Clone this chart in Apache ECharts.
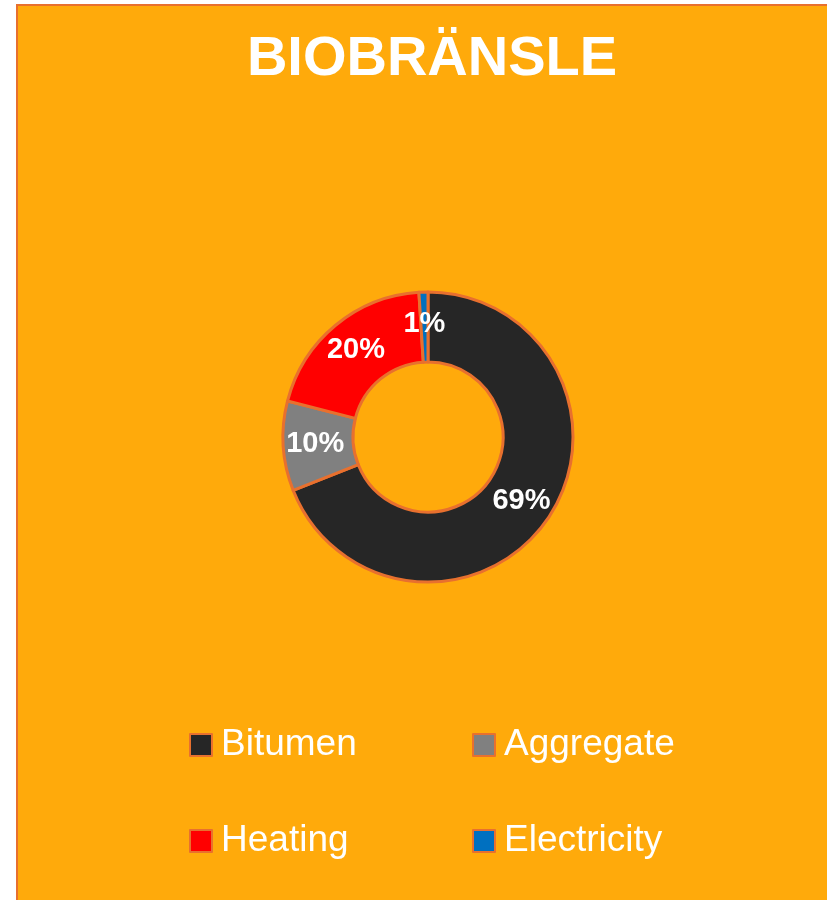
<!DOCTYPE html>
<html>
<head>
<meta charset="utf-8">
<script src="https://cdn.jsdelivr.net/npm/echarts@6/dist/echarts.min.js"></script>
<style>
  html, body { margin: 0; padding: 0; background: #fff; overflow: hidden; width: 827px; height: 900px; }
  #frame { position: absolute; left: 16px; top: 4px; width: 840px; height: 920px;
           border: 2px solid #E8702E; background: #FFAA0B; }
  #main { width: 826px; height: 900px; }
</style>
</head>
<body>
<div id="frame"><div id="main"></div></div>
<script>
// 数据
var categories = ['Bitumen', 'Aggregate', 'Heating', 'Electricity'];
var shares = [69, 10, 20, 1];
var colors = ['#262626', '#808080', '#FF0000', '#0070C0'];

var myChart = echarts.init(document.getElementById('main'));

var pieData = categories.map(function (name, i) {
    return { name: name, value: shares[i], itemStyle: { color: colors[i] } };
});

var legendText = {
    color: '#fff',
    fontSize: 37,
    fontFamily: 'Liberation Sans, Arial, sans-serif',
    lineHeight: 40,
    padding: [0, 0, 0, 4]
};

var option = {
    animation: false,
    backgroundColor: '#FFAA0B',
    title: {
        text: 'BIOBRÄNSLE',
        left: 409,
        top: 21,
        textAlign: 'center',
        textStyle: {
            color: '#fff',
            fontSize: 56,
            fontWeight: 'bold',
            fontFamily: 'Liberation Sans, Arial, sans-serif'
        }
    },
    legend: [{
        data: ['Bitumen', 'Heating'],
        orient: 'vertical',
        left: 166,
        top: 714,
        itemGap: 56,
        itemWidth: 22,
        itemHeight: 22,
        icon: 'rect',
        selectedMode: false,
        textStyle: legendText
    }, {
        data: ['Aggregate', 'Electricity'],
        orient: 'vertical',
        left: 449,
        top: 714,
        itemGap: 56,
        itemWidth: 22,
        itemHeight: 22,
        icon: 'rect',
        selectedMode: false,
        textStyle: legendText
    }],
    series: [{
        type: 'pie',
        center: [410, 431],
        radius: [75, 145],
        startAngle: 90,
        clockwise: true,
        percentPrecision: 0,
        itemStyle: {
            borderColor: '#E8702E',
            borderWidth: 3
        },
        label: {
            show: true,
            position: 'inside',
            formatter: '{d}%',
            color: '#fff',
            fontSize: 29,
            fontWeight: 'bold',
            fontFamily: 'Liberation Sans, Arial, sans-serif',
            textBorderWidth: 0
        },
        labelLine: { show: false },
        emphasis: { disabled: true },
        data: pieData
    }]
};

myChart.setOption(option);
</script>
</body>
</html>
